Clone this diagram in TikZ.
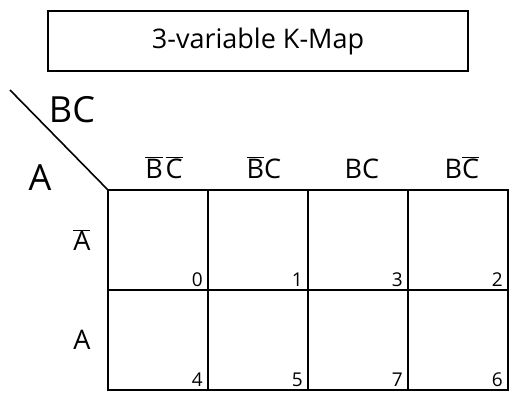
\documentclass[tikz,border=0pt]{standalone}
\usepackage{fontspec}
\setmainfont{Open Sans}
\usetikzlibrary{calc,positioning}
\tikzset{
    kcell/.style = {
        draw, rectangle,
        outer sep=0,
        inner sep=0,
        minimum width=100pt,
        minimum height=100pt,
        line width=1.6pt
    },
    ktitle/.style = {
        draw, rectangle,
        minimum width=420pt,
        minimum height=60pt,
        line width=1.6pt,
        font=\fontsize{27}{30}\selectfont
    },
    hdr/.style = {font=\fontsize{27}{30}\selectfont},
    num/.style = {font=\fontsize{19}{22}\selectfont, inner sep=1pt},
    var/.style = {font=\fontsize{36}{40}\selectfont}
}

\begin{document}
\begin{tikzpicture}[x=1pt,y=-1pt]
\useasboundingbox (0,0) rectangle (519,402);

\node[ktitle](Title) at (258,41){3-variable K-Map};

% the map itself
\node[kcell](c0) at (158,240){};
\node[kcell, right=0pt of c0](c1){};
\node[kcell, right=0pt of c1](c3){};
\node[kcell, right=0pt of c3](c2){};
\node[kcell, below=0pt of c0](c4){};
\node[kcell, right=0pt of c4](c5){};
\node[kcell, right=0pt of c5](c7){};
\node[kcell, right=0pt of c7](c6){};

\foreach \c in {0,1,3,2,4,5,7,6}
    \node[num, above left=2pt and 4pt of c\c.south east](n\c){\c};

% column and row heads
\node[hdr, above=8pt of c0, xshift=6pt](h0){$\overline{\mbox{B}}\mkern2mu\overline{\mbox{C}}$};
\node[hdr, above=8pt of c1, xshift=6pt](h1){$\overline{\mbox{B}}\mbox{C}$};
\node[hdr, above=8pt of c3, xshift=4pt](h3){BC};
\node[hdr, above=8pt of c2, xshift=4pt](h2){B$\overline{\mbox{C}}$};
\node[hdr, left=14pt of c0](r0){$\overline{\mbox{A}}$};
\node[hdr, left=14pt of c4](r1){A};

% corner
\coordinate (slash) at (10,90);
\draw[line width=1.6pt] (slash) -- (c0.north west);
\node[var](lblBC) at (72,110){BC};
\node[var](lblA) at (40,178){A};

\end{tikzpicture}
\end{document}
